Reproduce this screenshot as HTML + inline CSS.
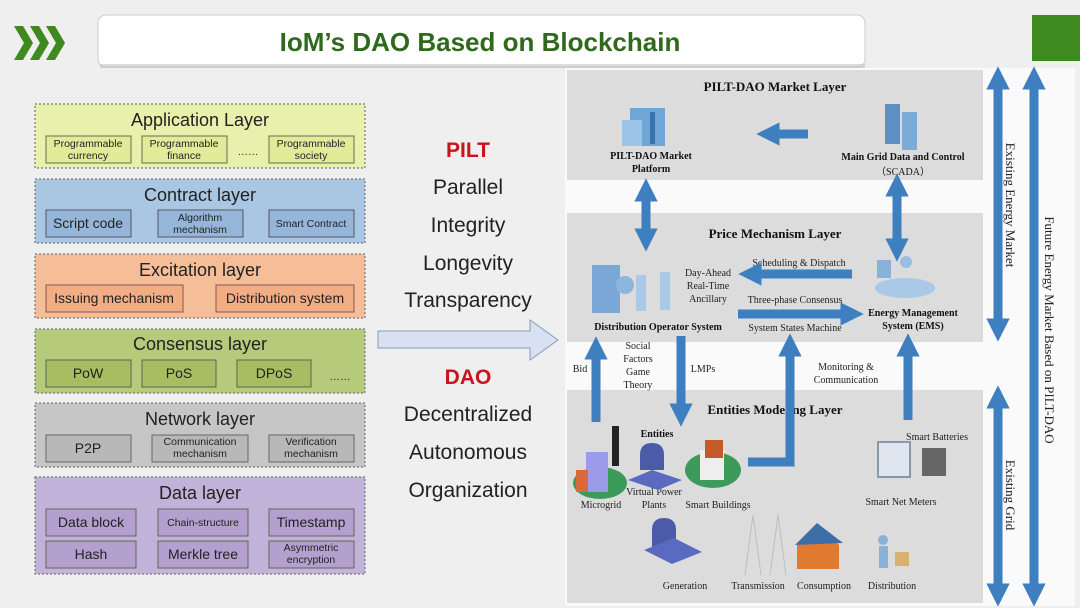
<!DOCTYPE html>
<html><head><meta charset="utf-8"><style>
html,body{margin:0;padding:0;background:#f2f2f2;width:1080px;height:608px;overflow:hidden}
svg{display:block}
.L{font-family:"Liberation Sans",sans-serif}
.S{font-family:"Liberation Serif",serif}
</style></head><body>
<svg width="1080" height="608" viewBox="0 0 1080 608" xmlns="http://www.w3.org/2000/svg">
<defs>
<marker id="a" viewBox="0 0 10 10" refX="5" refY="5" markerWidth="2.6" markerHeight="2.6" orient="auto-start-reverse"><path d="M0,0L10,5L0,10z" fill="#3d7fbf"/></marker>
</defs>
<rect width="1080" height="608" fill="#efefef"/>
<!-- header -->
<g fill="#3e8a1f">
<path d="M14,26h9l10,17l-10,17h-9l10,-17z"/>
<path d="M30,26h9l10,17l-10,17h-9l10,-17z"/>
<path d="M46,26h9l10,17l-10,17h-9l10,-17z"/>
</g>
<rect x="98" y="15" width="767" height="52" rx="8" fill="#fff" stroke="#ccc"/>
<rect x="100" y="64" width="765" height="4" fill="#bbb" opacity=".5"/>
<text x="480" y="51" text-anchor="middle" class="L" font-size="26" font-weight="bold" fill="#2f6a1c">IoM’s DAO Based on Blockchain</text>
<rect x="1032" y="15" width="48" height="46" fill="#3e8a1f"/>
<!-- left layers -->
<g class="L" stroke-dasharray="2,2" stroke="#777" stroke-width="1.2">
<rect x="35" y="104" width="330" height="64" fill="#e7f1ab"/>
<rect x="35" y="179" width="330" height="64" fill="#a9c6e2"/>
<rect x="35" y="254" width="330" height="64" fill="#f5bd98"/>
<rect x="35" y="329" width="330" height="64" fill="#b6ca7c"/>
<rect x="35" y="403" width="330" height="64" fill="#c6c6c6"/>
<rect x="35" y="477" width="330" height="97" fill="#c1b2d9"/>
</g>
<g class="L" font-size="18" fill="#222" text-anchor="middle">
<text x="200" y="126">Application Layer</text>
<text x="200" y="201">Contract layer</text>
<text x="200" y="276">Excitation layer</text>
<text x="200" y="350">Consensus layer</text>
<text x="200" y="425">Network layer</text>
<text x="200" y="499">Data layer</text>
</g>
<g stroke="#6a6a50" stroke-width="1">
<g fill="#e0ec9a"><rect x="46" y="136" width="85" height="27"/><rect x="142" y="136" width="85" height="27"/><rect x="269" y="136" width="85" height="27"/></g>
<g fill="#95b6d8" stroke="#556"><rect x="46" y="210" width="85" height="27"/><rect x="158" y="210" width="85" height="27"/><rect x="269" y="210" width="85" height="27"/></g>
<g fill="#f3ad85" stroke="#855"><rect x="46" y="285" width="137" height="27"/><rect x="216" y="285" width="138" height="27"/></g>
<g fill="#a6bd62" stroke="#565"><rect x="46" y="360" width="85" height="27"/><rect x="142" y="360" width="74" height="27"/><rect x="237" y="360" width="74" height="27"/></g>
<g fill="#b8b8b8" stroke="#666"><rect x="46" y="435" width="85" height="27"/><rect x="152" y="435" width="96" height="27"/><rect x="269" y="435" width="85" height="27"/></g>
<g fill="#b3a0cf" stroke="#665"><rect x="46" y="509" width="90" height="27"/><rect x="158" y="509" width="90" height="27"/><rect x="269" y="509" width="85" height="27"/>
<rect x="46" y="541" width="90" height="27"/><rect x="158" y="541" width="90" height="27"/><rect x="269" y="541" width="85" height="27"/></g>
</g>
<g class="L" fill="#222" text-anchor="middle">
<g font-size="10.5"><text x="88" y="147">Programmable</text><text x="88" y="159">currency</text>
<text x="184" y="147">Programmable</text><text x="184" y="159">finance</text>
<text x="248" y="155">……</text>
<text x="311" y="147">Programmable</text><text x="311" y="159">society</text>
<text x="200" y="221">Algorithm</text><text x="200" y="233">mechanism</text>
<text x="311" y="227">Smart Contract</text>
<text x="340" y="380">……</text>
<text x="200" y="445">Communication</text><text x="200" y="457">mechanism</text>
<text x="311" y="445">Verification</text><text x="311" y="457">mechanism</text>
<text x="203" y="526">Chain-structure</text>
<text x="311" y="551">Asymmetric</text><text x="311" y="563">encryption</text></g>
<g font-size="14"><text x="88" y="228">Script code</text>
<text x="114" y="303">Issuing mechanism</text><text x="285" y="303">Distribution system</text>
<text x="88" y="378">PoW</text><text x="179" y="378">PoS</text><text x="274" y="378">DPoS</text>
<text x="88" y="453">P2P</text>
<text x="91" y="527">Data block</text><text x="311" y="527">Timestamp</text>
<text x="91" y="559">Hash</text><text x="203" y="559">Merkle tree</text></g>
</g>
<!-- middle -->
<g class="L" text-anchor="middle" font-size="21" fill="#222">
<text x="468" y="157" fill="#c8141c" font-weight="bold">PILT</text>
<text x="468" y="194">Parallel</text>
<text x="468" y="232">Integrity</text>
<text x="468" y="270">Longevity</text>
<text x="468" y="307">Transparency</text>
<text x="468" y="384" fill="#c8141c" font-weight="bold">DAO</text>
<text x="468" y="421">Decentralized</text>
<text x="468" y="459">Autonomous</text>
<text x="468" y="497">Organization</text>
</g>
<path d="M378,331H530V320L558,340L530,360V348H378z" fill="#d7e1f2" stroke="#8a9bb8"/>
<!-- right panel -->
<rect x="565" y="68" width="510" height="538" fill="#fafafa"/>
<rect x="567" y="70" width="416" height="110" fill="#dcdcdc"/>
<rect x="567" y="213" width="416" height="129" fill="#dcdcdc"/>
<rect x="567" y="390" width="416" height="213" fill="#dcdcdc"/>
<g class="S" font-weight="bold" fill="#111" text-anchor="middle">
<text x="775" y="91" font-size="13">PILT-DAO Market Layer</text>
<text x="775" y="238" font-size="13">Price Mechanism Layer</text>
<text x="775" y="414" font-size="13">Entities Modeling Layer</text>
<g font-size="10"><text x="651" y="159">PILT-DAO Market</text><text x="651" y="172">Platform</text>
<text x="903" y="160">Main Grid Data and Control</text><text x="903" y="175" font-weight="normal">（SCADA）</text>
<text x="658" y="330">Distribution Operator System</text>
<text x="913" y="316">Energy Management</text><text x="913" y="329">System (EMS)</text>
<text x="657" y="437">Entities</text></g>
</g>
<g class="S" fill="#222" text-anchor="middle" font-size="10">
<text x="708" y="276">Day-Ahead</text><text x="708" y="289">Real-Time</text><text x="708" y="302">Ancillary</text>
<text x="799" y="266">Scheduling &amp; Dispatch</text>
<text x="795" y="303">Three-phase Consensus</text>
<text x="795" y="331">System States Machine</text>
<text x="638" y="349">Social</text><text x="638" y="362">Factors</text><text x="638" y="375">Game</text><text x="638" y="388">Theory</text>
<text x="580" y="372">Bid</text><text x="703" y="372">LMPs</text>
<text x="846" y="370">Monitoring &amp;</text><text x="846" y="383">Communication</text>
<text x="937" y="440">Smart Batteries</text>
<text x="901" y="505">Smart Net Meters</text>
<text x="601" y="508">Microgrid</text><text x="654" y="495">Virtual Power</text><text x="654" y="508">Plants</text><text x="718" y="508">Smart Buildings</text>
<text x="685" y="589">Generation</text><text x="758" y="589">Transmission</text><text x="824" y="589">Consumption</text><text x="892" y="589">Distribution</text>
</g>
<g class="S" fill="#222" font-size="13">
<text transform="translate(1006,205) rotate(90)" text-anchor="middle">Existing Energy Market</text>
<text transform="translate(1006,495) rotate(90)" text-anchor="middle">Existing Grid</text>
<text transform="translate(1045,330) rotate(90)" text-anchor="middle">Future Energy Market Based on PILT-DAO</text>
</g>
<!-- arrows -->
<g stroke="#3d7fbf" stroke-width="9" fill="none" marker-end="url(#a)">
<path d="M808,134H768"/>
<path d="M852,274H750"/>
<path d="M738,314H852"/>
<path d="M646,190V240" marker-start="url(#a)"/>
<path d="M897,185V250" marker-start="url(#a)"/>
<path d="M596,422V348"/>
<path d="M681,336V415"/>
<path d="M908,420V345"/>
<path d="M748,462H790V345"/>
<path d="M998,78V330" marker-start="url(#a)"/>
<path d="M998,397V595" marker-start="url(#a)"/>
<path d="M1034,78V595" marker-start="url(#a)"/>
</g>
<!-- icons (approximate) -->
<g>
<rect x="630" y="108" width="35" height="38" fill="#6fa6d6"/><rect x="622" y="120" width="20" height="26" fill="#9cc4e6"/><rect x="650" y="112" width="5" height="32" fill="#3a74b0"/>
<rect x="885" y="104" width="15" height="40" fill="#5d8fc4"/><rect x="902" y="112" width="15" height="38" fill="#7eaad6"/>
<rect x="592" y="265" width="28" height="48" fill="#7aa7d6"/><circle cx="625" cy="285" r="9" fill="#8cb6de"/><rect x="636" y="275" width="10" height="36" fill="#a9c9e6"/><rect x="660" y="272" width="10" height="38" fill="#a9c9e6"/>
<ellipse cx="905" cy="288" rx="30" ry="10" fill="#a9c9e6"/><rect x="877" y="260" width="14" height="18" fill="#8ab2d8"/><circle cx="906" cy="262" r="6" fill="#9bbfe0"/>
<ellipse cx="600" cy="483" rx="27" ry="16" fill="#3c9a5a"/><rect x="586" y="452" width="22" height="40" fill="#9b9bea"/><rect x="576" y="470" width="12" height="22" fill="#d86a3a"/><rect x="612" y="426" width="7" height="40" fill="#222"/>
<path d="M640,455q0,-12 12,-12q12,0 12,12v15h-24z" fill="#4b5ba8"/><path d="M628,480l24,-10l30,10l-24,10z" fill="#5a6ac0"/>
<ellipse cx="713" cy="470" rx="28" ry="18" fill="#3c9a5a"/><rect x="700" y="450" width="24" height="30" fill="#eee"/><rect x="705" y="440" width="18" height="18" fill="#c25a2a"/>
<rect x="878" y="442" width="32" height="35" fill="#dfe6ef" stroke="#8899aa" stroke-width="2"/>
<rect x="922" y="448" width="24" height="28" fill="#666"/>
<path d="M652,530q0,-12 12,-12q12,0 12,12v20h-24z" fill="#4b5ba8"/><path d="M644,550l30,-12l28,14l-30,12z" fill="#5a6ac0"/>
<path d="M745,575l8,-60l8,60M770,575l8,-60l8,60" stroke="#b8c0c8" fill="none"/>
<path d="M797,545l20,-20l22,20v24h-42z" fill="#e07a30"/><path d="M795,545l22,-22l26,20" fill="#3d6ea8"/>
<circle cx="883" cy="540" r="5" fill="#8ab2d8"/><rect x="879" y="546" width="9" height="22" fill="#8ab2d8"/><rect x="895" y="552" width="14" height="14" fill="#d8b070"/>
</g>
</svg>
</body></html>
